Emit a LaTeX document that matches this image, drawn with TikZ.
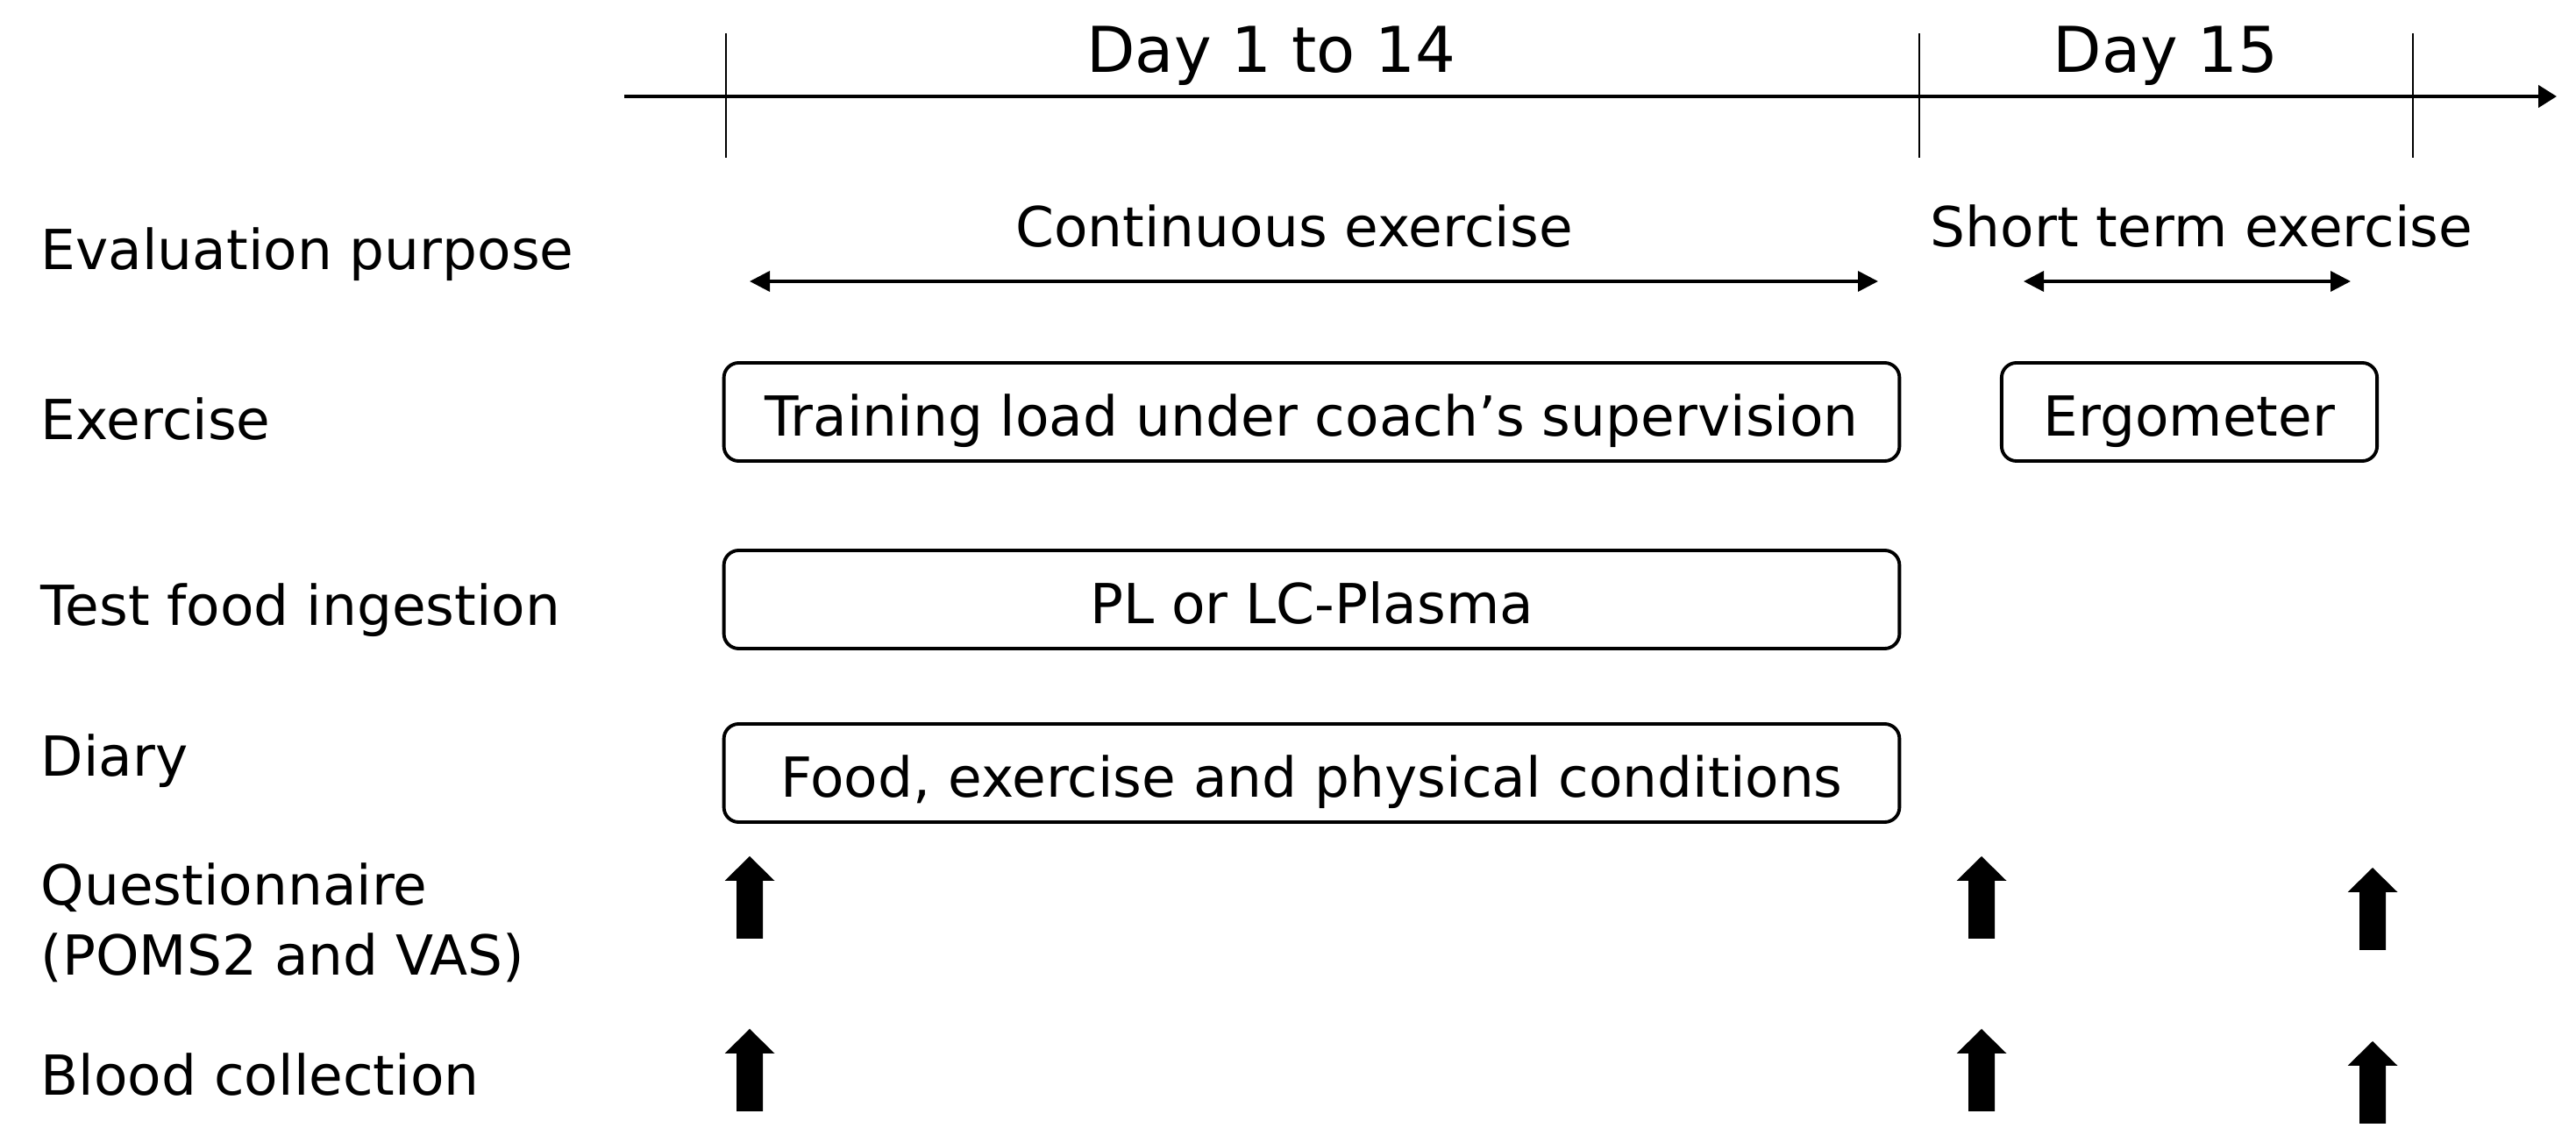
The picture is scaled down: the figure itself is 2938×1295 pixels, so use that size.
\documentclass[tikz,border=0pt]{standalone}
\usepackage{fontspec}
\setmainfont{DejaVu Sans}
\usetikzlibrary{arrows.meta, positioning}

\tikzset{
    txt/.style={inner sep=0pt, font=\fontsize{17.9pt}{22.8pt}\selectfont},
    rowlabel/.style={txt, anchor=base west, align=left},
    daylabel/.style={inner sep=0pt, anchor=base, font=\fontsize{20.5pt}{24pt}\selectfont},
    phasebox/.style={txt, draw, line width=1.1pt, rounded corners=0.17cm,
        minimum height=1.12cm, text height=15.4pt, text depth=0pt},
    span/.style={line width=1pt, {Triangle[length=0.23cm,width=0.23cm]}-{Triangle[length=0.23cm,width=0.23cm]}},
    upmark/.pic={\fill (-15,0) -- (-15,-66) -- (-28.5,-66) -- (0,-94) -- (28.5,-66) -- (15,-66) -- (15,0) -- cycle;}
}

\begin{document}
\begin{tikzpicture}[x=0.01cm, y=-0.01cm]
    \useasboundingbox (0,0) rectangle (2938,1295);

    % Time axis
    \coordinate (axisL) at (712,110);
    \coordinate (axisR) at (2916,110);
    \draw[line width=1.3pt, -{Triangle[length=0.21cm,width=0.25cm]}] (axisL) -- (axisR);
    \foreach \x/\n in {828/t0, 2189/t1, 2752/t2} {
        \draw[line width=0.8pt] (\x,38) coordinate (\n top) -- (\x,180) coordinate (\n bot);
    }
    \node[daylabel] (day1) at (1450,83) {Day 1 to 14};
    \node[daylabel] (day15) at (2470,83) {Day 15};

    % Row labels
    \node[rowlabel] (lpurpose) at (46,308) {Evaluation purpose};
    \node[rowlabel] (lexercise) at (46,502) {Exercise};
    \node[rowlabel] (lfood) at (46,714) {Test food ingestion};
    \node[rowlabel] (ldiary) at (46,886) {Diary};
    \node[rowlabel] (lquest) at (46,1113) {Questionnaire\\(POMS2 and VAS)};
    \node[rowlabel] (lblood) at (46,1250) {Blood collection};

    % Evaluation purpose
    \node[txt, anchor=base] (cont) at (1476,282) {Continuous exercise};
    \node[txt, anchor=base] (short) at (2511,282) {Short term exercise};
    \coordinate (contL) at (855,321);
    \coordinate (contR) at (2142,321);
    \coordinate (shortL) at (2308,321);
    \coordinate (shortR) at (2681,321);
    \draw[span] (contL) -- (contR);
    \draw[span] (shortL) -- (shortR);

    % Boxes
    \node[phasebox, minimum width=13.4cm] (train) at (1496,470) {Training load under coach’s supervision};
    \node[phasebox, minimum width=4.28cm] (ergo) at (2497,470) {Ergometer};
    \node[phasebox, minimum width=13.4cm] (plasma) at (1496,684) {PL or LC-Plasma};
    \node[phasebox, minimum width=13.4cm] (diary) at (1496,882) {Food, exercise and physical conditions};

    % Sampling points
    \foreach \x/\y in {855/1071, 2260/1071, 2706/1084, 855/1268, 2260/1268, 2706/1282} {
        \pic at (\x,\y) {upmark};
    }
\end{tikzpicture}
\end{document}
